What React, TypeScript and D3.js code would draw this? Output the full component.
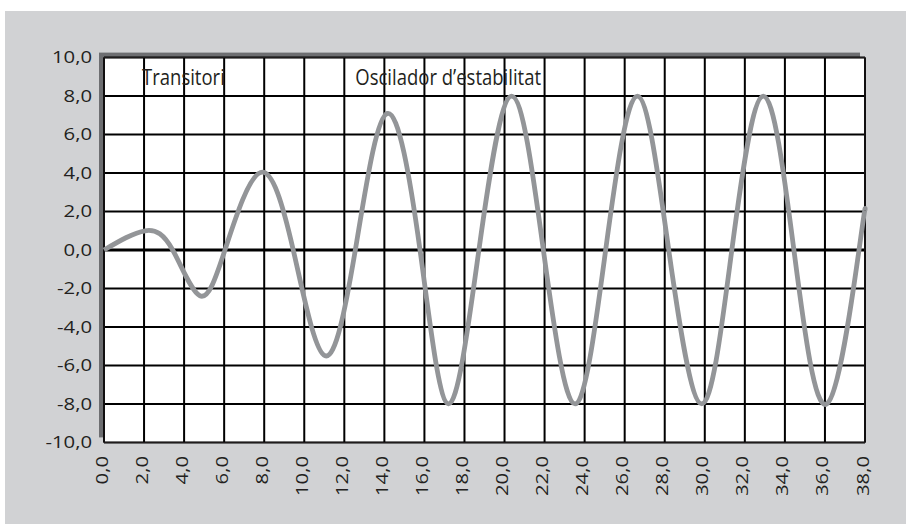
import React from "react";
import * as d3 from "d3";

const xTicks = [0, 2, 4, 6, 8, 10, 12, 14, 16, 18, 20, 22, 24, 26, 28, 30, 32, 34, 36, 38];
const yTicks = [-10, -8, -6, -4, -2, 0, 2, 4, 6, 8, 10];
const curveX = [0, 2.05, 3.43, 4.79, 6.04, 7.82, 9.45, 11.04, 12.55, 14.15, 15.78, 17.2, 18.72, 20.36, 21.94, 23.52, 25.05, 26.63, 28.2, 29.85, 31.35, 32.92, 34.45, 36.09, 37.7, 38];
const curveY = [0, 1.0, 0, -2.38, 0, 4.03, 0, -5.5, 0, 7.1, 0, -8.0, 0, 8.0, 0, -8.0, 0, 8.0, 0, -8.0, 0, 8.0, 0, -8.0, 0, 2.05];
const labels = [
  { text: "Transitori", x: 1.9, y: 8.6 },
  { text: "Oscilador d\u2019estabilitat", x: 12.55, y: 8.6 },
];

const W = 906;
const H = 526;
const left = 104;
const right = 865;
const top = 57.6;
const bottom = 442.4;
const font = "'Open Sans', sans-serif";

export default function App() {
  const x = d3.scaleLinear().domain([0, 38]).range([left, right]);
  const y = d3.scaleLinear().domain([-10, 10]).range([bottom, top]);
  const pts = curveX.map((v, i) => [v, curveY[i]] as [number, number]);
  const line = d3
    .line<[number, number]>()
    .x((d) => x(d[0]))
    .y((d) => y(d[1]))
    .curve(d3.curveNatural);
  const fmt = (v: number) => v.toFixed(1).replace(".", ",");

  return (
    <svg width={W} height={H} style={{ position: "absolute", left: 0, top: 0 }} fontFamily={font}>
      <rect x={0} y={0} width={W} height={H} fill="#ffffff" />
      <rect x={5} y={11} width={W - 5} height={H - 13} fill="#d1d2d4" />
      <rect x={left - 5} y={top - 5} width={right - left} height={bottom - top} fill="#6d6e71" />
      <rect x={left} y={top} width={right - left} height={bottom - top} fill="#ffffff" />
      {xTicks.map((t) => (
        <line key={"gx" + t} x1={x(t)} x2={x(t)} y1={top} y2={bottom} stroke="#000" strokeWidth={2} />
      ))}
      {yTicks.map((t) => (
        <line key={"gy" + t} x1={left} x2={right} y1={y(t)} y2={y(t)} stroke="#000" strokeWidth={t === 0 ? 3 : 2} />
      ))}
      <rect x={left} y={top} width={right - left} height={bottom - top} fill="none" stroke="#231f20" strokeWidth={1} />
      {labels.map((l) => (
        <text
          key={l.text}
          transform={`translate(${x(l.x)},${y(l.y)}) scale(0.86,1)`}
          fontSize={21.5}
          fill="#231f20"
        >
          {l.text}
        </text>
      ))}
      <path d={line(pts) || ""} fill="none" stroke="#939598" strokeWidth={4.8} strokeLinejoin="round" />
      {yTicks.map((t) => (
        <text
          key={"ly" + t}
          transform={`translate(92,${y(t)}) scale(1.27,1)`}
          dy="0.36em"
          textAnchor="end"
          fontSize={16}
          fill="#231f20"
        >
          {fmt(t)}
        </text>
      ))}
      {xTicks.map((t) => (
        <text
          key={"lx" + t}
          transform={`translate(${x(t) + 3.5},${456}) rotate(-90) scale(1.27,1)`}
          textAnchor="end"
          fontSize={16}
          fill="#231f20"
        >
          {fmt(t)}
        </text>
      ))}
    </svg>
  );
}
